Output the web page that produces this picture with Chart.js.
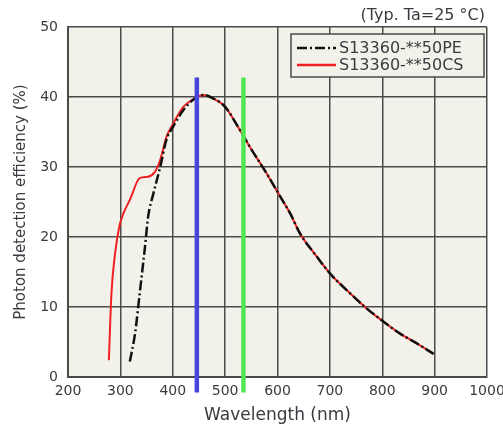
<!DOCTYPE html>
<html>
<head>
<meta charset="utf-8">
<script src="https://cdn.jsdelivr.net/npm/chart.js@4"></script>
<style>
html,body{margin:0;padding:0;background:#fff;}
#wrap{width:503px;height:428px;position:relative;}
</style>
</head>
<body>
<div id="wrap"><canvas id="c" width="503" height="428"></canvas></div>
<script>
// Data
const seriesPE = "S13360-**50PE";
const seriesCS = "S13360-**50CS";
const peWavelength = [318, 328, 337, 347, 353, 363, 376, 388, 401, 420, 439, 458, 477, 500, 528, 547, 579, 605, 624, 643, 675, 700, 738, 770, 799, 834, 866, 898];
const peEfficiency = [2.2, 6.2, 12, 18.6, 22.9, 26.2, 30, 33.9, 35.8, 38.1, 39.6, 40.3, 39.8, 38.6, 35.3, 32.9, 29.1, 25.8, 23.4, 20.5, 17.2, 14.8, 12, 9.8, 8.1, 6.2, 4.8, 3.3];
const csWavelength = [278, 283, 290, 298, 306, 318, 337, 353, 366, 376, 388, 401, 420, 442, 458, 477, 500, 528, 547, 579, 605, 624, 643, 675, 700, 738, 770, 799, 834, 866, 898];
const csEfficiency = [2.4, 12, 17.7, 21.5, 23.4, 25.3, 28.4, 28.6, 29.3, 31, 34.3, 36.2, 38.6, 39.8, 40.3, 39.8, 38.6, 35.3, 32.9, 29.1, 25.8, 23.4, 20.5, 17.2, 14.8, 12, 9.8, 8.1, 6.2, 4.8, 3.3];
const markerWavelengths = [446, 535];
const markerRange = [-2.2, 42.8];
const xTicks = [200, 300, 400, 500, 600, 700, 800, 900, 1000];
const yTicks = [0, 10, 20, 30, 40, 50];
const noteText = "(Typ. Ta=25 °C)";

const pts = (xs, ys) => xs.map((x, i) => ({x, y: ys[i]}));
const markerPts = w => markerRange.map(y => ({x: w, y}));

const FONT = "'DejaVu Sans', Verdana, sans-serif";
const TXT = '#3a3a40';
const GRID = '#4a4a4a';
const BG = '#f3f2ea';

const bgPlugin = {
  id: 'bg',
  beforeDraw(chart) {
    const {ctx, chartArea: a} = chart;
    ctx.save();
    ctx.fillStyle = BG;
    ctx.fillRect(a.left, a.top, a.right - a.left, a.bottom - a.top);
    ctx.restore();
  },
  afterDraw(chart) {
    const {ctx} = chart;
    ctx.save();
    // note text
    ctx.font = '16px ' + FONT;
    ctx.fillStyle = TXT;
    ctx.textAlign = 'right';
    ctx.textBaseline = 'alphabetic';
    ctx.fillText(noteText, 485, 20);
    // legend box
    const bx = 291, by = 34, bw = 193, bh = 43;
    ctx.fillStyle = BG;
    ctx.fillRect(bx, by, bw, bh);
    ctx.strokeStyle = GRID;
    ctx.lineWidth = 1.5;
    ctx.strokeRect(bx, by, bw, bh);
    const items = [chart.data.datasets[0], chart.data.datasets[1]];
    items.forEach((ds, i) => {
      const y = by + 14 + i * 17;
      ctx.beginPath();
      ctx.strokeStyle = ds.borderColor;
      ctx.lineWidth = 2.5;
      ctx.setLineDash(ds.borderDash || []);
      ctx.moveTo(297, y);
      ctx.lineTo(336, y);
      ctx.stroke();
      ctx.setLineDash([]);
      ctx.fillStyle = TXT;
      ctx.textAlign = 'left';
      ctx.textBaseline = 'middle';
      ctx.font = '16px ' + FONT;
      ctx.fillText(ds.label, 339, y + 1);
    });
    ctx.restore();
  }
};

new Chart(document.getElementById('c'), {
  type: 'line',
  data: {
    datasets: [
      {label: seriesPE, data: pts(peWavelength, peEfficiency), borderColor: '#111111', borderWidth: 2.5, borderDash: [10, 3, 2, 3], pointRadius: 0, tension: 0.4, cubicInterpolationMode: 'monotone', order: 1},
      {label: seriesCS, data: pts(csWavelength, csEfficiency), borderColor: '#ee2222', borderWidth: 2, pointRadius: 0, tension: 0.4, cubicInterpolationMode: 'monotone', order: 2},
      {label: 'blue', data: markerPts(markerWavelengths[0]), borderColor: '#4646dc', borderWidth: 4.5, pointRadius: 0, clip: false, order: 0},
      {label: 'green', data: markerPts(markerWavelengths[1]), borderColor: '#52e652', borderWidth: 4.5, pointRadius: 0, clip: false, order: 0}
    ]
  },
  options: {
    responsive: false,
    animation: false,
    devicePixelRatio: 1,
    layout: {padding: {top: 27, right: 16, left: 0, bottom: 0}},
    plugins: {legend: {display: false}, tooltip: {enabled: false}, title: {display: false}},
    scales: {
      x: {
        type: 'linear', min: 200, max: 1000,
        afterBuildTicks: s => { s.ticks = xTicks.map(v => ({value: v})); },
        afterFit: s => { s.height = 51; s.paddingLeft = 0; s.paddingRight = 0; },
        grid: {color: GRID, lineWidth: 1.5, drawTicks: false},
        border: {color: GRID, width: 2},
        ticks: {color: TXT, font: {family: FONT, size: 14}, padding: 6, maxRotation: 0, autoSkip: false, callback: v => String(v)},
        title: {display: true, text: 'Wavelength (nm)', color: TXT, font: {family: FONT, size: 17}, padding: {top: 0, bottom: 2}}
      },
      y: {
        type: 'linear', min: 0, max: 50,
        afterBuildTicks: s => { s.ticks = yTicks.map(v => ({value: v})); },
        afterFit: s => { s.width = 68; s.paddingTop = 0; s.paddingBottom = 0; },
        grid: {color: GRID, lineWidth: 1.5, drawTicks: false},
        border: {color: GRID, width: 2},
        ticks: {color: TXT, font: {family: FONT, size: 14}, padding: 10, callback: v => String(v)},
        title: {display: true, text: 'Photon detection efficiency (%)', color: TXT, font: {family: FONT, size: 15}, padding: {top: 12, bottom: 0}}
      }
    }
  },
  plugins: [bgPlugin]
});
</script>
</body>
</html>
